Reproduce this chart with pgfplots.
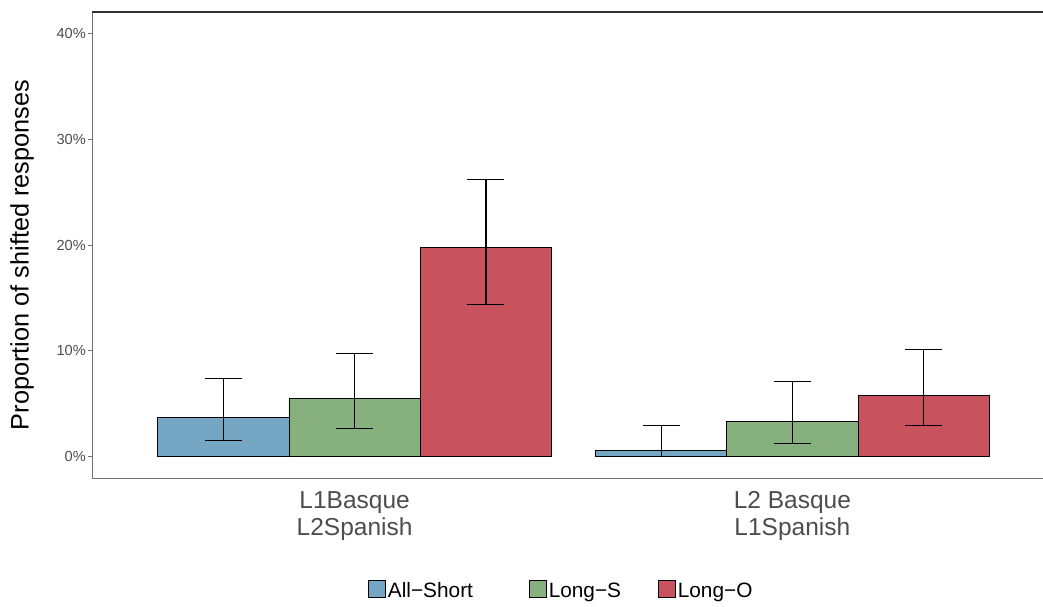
\documentclass[border=0pt]{standalone}
\usepackage{pgfplots}
\pgfplotsset{compat=1.18}
\usepackage{pgfplotstable}
\usepackage{fontspec}
\setmainfont{Liberation Sans}

\definecolor{cshort}{RGB}{117,166,195}
\definecolor{clongs}{RGB}{134,176,126}
\definecolor{clongo}{RGB}{201,82,95}
\definecolor{axgray}{RGB}{112,112,112}
\definecolor{txtgray}{RGB}{77,77,77}
\definecolor{topline}{RGB}{51,51,51}

% proportion of shifted responses (%), with lower and upper interval bounds
% x: 1 = L1Basque/L2Spanish, 2 = L2 Basque/L1Spanish (dodged by 0.3)
\pgfplotstableread{
x   y      lo     hi
0.7 3.68   1.54   7.39
1.7 0.60   0.02   2.95
}\allshort
\pgfplotstableread{
x   y      lo     hi
1.0 5.50   2.70   9.75
2.0 3.37   1.25   7.10
}\longs
\pgfplotstableread{
x   y      lo     hi
1.3 19.75  14.34  26.16
2.3 5.82   2.95   10.16
}\longo

\pgfplotsset{
  shiftbar/.style={draw=black, line width=0.8pt,
    error bars/y dir=both, error bars/y explicit,
    error bars/error mark=|,
    error bars/error bar style={black, line width=1.1pt},
    error bars/error mark options={black, line width=1.1pt, mark size=18.5pt}},
}

\begin{document}
\begin{tikzpicture}[x=1pt,y=1pt]
\path[use as bounding box] (0,0) rectangle (1043,606);
\begin{axis}[
  at={(92pt,128pt)}, anchor=south west,
  scale only axis, width=951pt, height=466pt,
  xmin=0.4, xmax=2.5726, ymin=-2, ymax=42,
  clip=false,
  axis x line*=bottom, axis y line*=left,
  axis line style={axgray, line width=0.9pt},
  tick align=outside,
  major tick length=4pt,
  ytick={0,10,20,30,40},
  yticklabels={0\%,10\%,20\%,30\%,40\%},
  ytick style={axgray, line width=0.9pt},
  yticklabel style={inner sep=0pt, xshift=-2pt, text=txtgray,
    font=\fontsize{14.6}{16}\selectfont},
  xtick={1,2},
  xticklabels={{L1Basque\\L2Spanish},{L2 Basque\\L1Spanish}},
  xtick style={draw=none},
  xticklabel style={align=center, inner sep=0pt, yshift=-9pt, text=txtgray,
    font=\fontsize{24.5}{27}\selectfont},
  ylabel={Proportion of shifted responses},
  every axis y label/.style={at={(axis description cs:-0.0736,0.4785)},
    rotate=90, anchor=center, font=\fontsize{25.3}{30}\selectfont},
  ybar, bar width=0.3, bar shift=0pt,
  legend columns=3,
  legend style={at={(0.2902,-0.2403)}, anchor=west, draw=none, fill=none,
    inner sep=0pt, nodes={inner sep=0pt},
    font=\fontsize{20.8}{24}\selectfont,
    /tikz/every odd column/.append style={column sep=2pt},
    /tikz/every even column/.append style={column sep=37pt}},
  legend image code/.code={\draw[#1, draw=black, line width=0.8pt] (0pt,-6pt) rectangle (17pt,10.3pt);},
]
\addplot[fill=cshort, shiftbar]
  table[x=x, y=y, y error plus expr=\thisrow{hi}-\thisrow{y},
        y error minus expr=\thisrow{y}-\thisrow{lo}] {\allshort};
\addlegendentry{All−Short\kern19pt\relax}
\addplot[fill=clongs, shiftbar]
  table[x=x, y=y, y error plus expr=\thisrow{hi}-\thisrow{y},
        y error minus expr=\thisrow{y}-\thisrow{lo}] {\longs};
\addlegendentry{Long−S}
\addplot[fill=clongo, shiftbar]
  table[x=x, y=y, y error plus expr=\thisrow{hi}-\thisrow{y},
        y error minus expr=\thisrow{y}-\thisrow{lo}] {\longo};
\addlegendentry{Long−O}
\draw[topline, line width=1.3pt] (rel axis cs:0,1) -- (rel axis cs:1,1);
\end{axis}
\end{tikzpicture}
\end{document}
